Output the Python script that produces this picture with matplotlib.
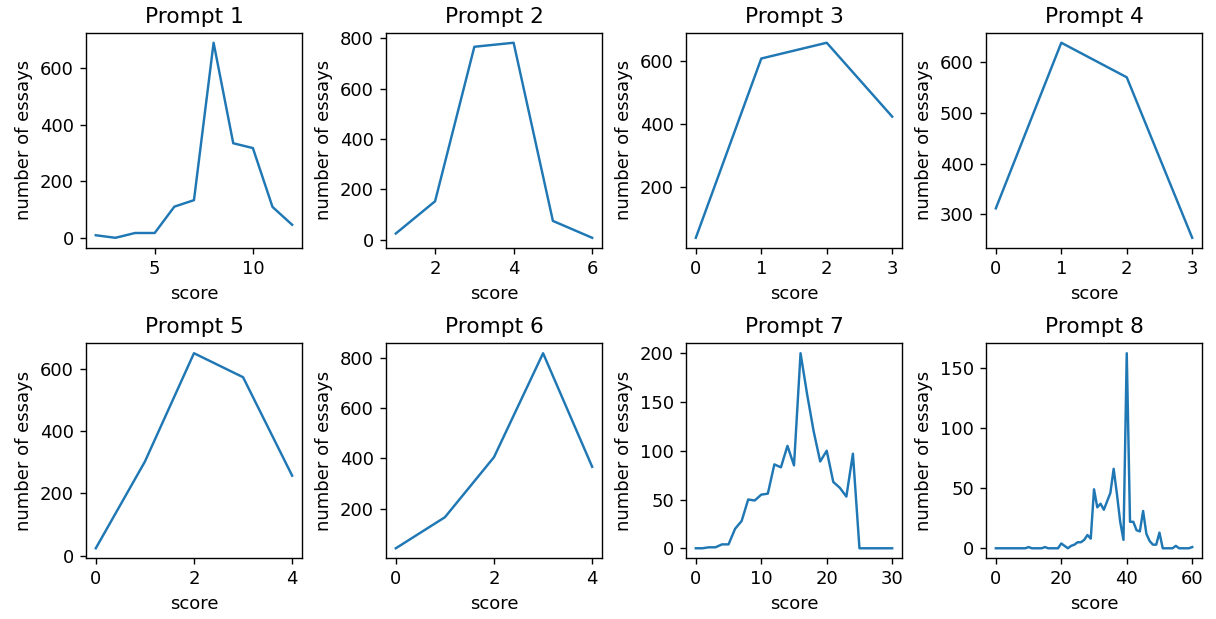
import matplotlib
matplotlib.use("Agg")
import matplotlib.pyplot as plt

titles = ["Prompt 1", "Prompt 2", "Prompt 3", "Prompt 4",
          "Prompt 5", "Prompt 6", "Prompt 7", "Prompt 8"]

p1_scores = list(range(2, 13))
p1_counts = [10, 1, 18, 18, 111, 134, 690, 335, 318, 110, 47]

p2_scores = list(range(1, 7))
p2_counts = [25, 153, 766, 782, 75, 8]

p3_scores = list(range(0, 4))
p3_counts = [39, 607, 657, 423]

p4_scores = list(range(0, 4))
p4_counts = [312, 638, 570, 254]

p5_scores = list(range(0, 5))
p5_counts = [24, 302, 650, 573, 257]

p6_scores = list(range(0, 5))
p6_counts = [44, 167, 405, 817, 367]

p7_scores = list(range(0, 31))
p7_counts = [0, 0, 1, 1, 4, 4, 20, 28, 50, 49, 55, 56, 86, 83, 105, 85,
             200, 158, 120, 89, 100, 68, 62, 53, 97, 0, 0, 0, 0, 0, 0]

p8_scores = list(range(0, 61))
p8_counts = [0, 0, 0, 0, 0, 0, 0, 0, 0, 0, 1, 0, 0, 0, 0, 1, 0, 0, 0, 0,
             4, 2, 0, 2, 3, 5, 5, 7, 11, 8, 49, 34, 37, 32, 39, 46, 66, 45, 22, 7,
             162, 22, 22, 15, 14, 31, 12, 6, 3, 3, 13, 0, 0, 0, 0, 2, 0, 0, 0, 0,
             1]

xticks = [[5, 10], [2, 4, 6], [0, 1, 2, 3], [0, 1, 2, 3],
          [0, 2, 4], [0, 2, 4], [0, 10, 20, 30], [0, 20, 40, 60]]

series = [(p1_scores, p1_counts), (p2_scores, p2_counts), (p3_scores, p3_counts),
          (p4_scores, p4_counts), (p5_scores, p5_counts), (p6_scores, p6_counts),
          (p7_scores, p7_counts), (p8_scores, p8_counts)]

DPI = 125
fig, axes = plt.subplots(2, 4, figsize=(1216 / DPI, 619 / DPI), dpi=DPI)
fig.subplots_adjust(left=0.0707, right=0.9885, top=0.9467, bottom=0.0985,
                    wspace=0.389, hspace=0.447)

for ax, title, (x, y), xt in zip(axes.flat, titles, series, xticks):
    ax.plot(x, y, color="tab:blue", lw=1.4)
    ax.set_title(title, fontsize=12.5)
    ax.set_xlabel("score", fontsize=10.4)
    ax.set_ylabel("number of essays", fontsize=10.4)
    ax.set_xticks(xt)
    ax.tick_params(labelsize=10.4)

fig.savefig("out.png", dpi=DPI)
